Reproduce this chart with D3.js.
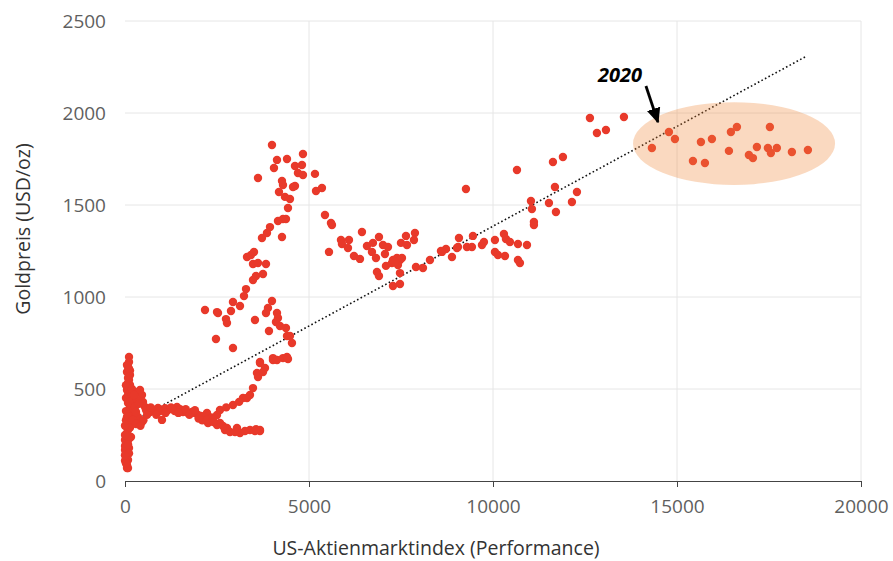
<!DOCTYPE html>
<html>
<head>
<meta charset="utf-8">
<script src="https://cdn.jsdelivr.net/npm/d3@7"></script>
<style>
  body { margin: 0; background: #fff; }
  svg { display: block; font-family: 'Open Sans', 'Noto Sans', sans-serif; }
  .grid line { stroke: #e6e6e6; stroke-width: 1; }
  .tick-label { fill: #5f5f5f; font-size: 19px; }
  .axis-label { fill: #333; font-size: 19.5px; }
</style>
</head>
<body>
<div id="chart"></div>
<script>
// x = US stock index (performance), y = gold price USD/oz
const xTicks = [0, 5000, 10000, 15000, 20000]
const yTicks = [0, 500, 1000, 1500, 2000, 2500]

// early years, index near zero
const stackPts = [
  [109, 674], [82, 620], [136, 576], [82, 533], [54, 495], [163, 468], [82, 424], [190, 386],
  [54, 348], [136, 315], [82, 277], [163, 239], [27, 206], [0, 168], [54, 141], [82, 114],
  [54, 87], [82, 70], [109, 647], [54, 592], [109, 549], [27, 451], [109, 332], [27, 299],
  [54, 261], [109, 179], [27, 125], [136, 522], [82, 468], [0, 223], [54, 70], [0, 190],
  [136, 400], [163, 355], [27, 380], [109, 230], [0, 110], [136, 290],
  [0, 300], [27, 330], [82, 350], [136, 430], [190, 470], [27, 520], [82, 560], [136, 600],
  [54, 630], [109, 610], [0, 250], [190, 330], [163, 410], [218, 440], [245, 390], [190, 500],
  [27, 95], [109, 150], [0, 140], [82, 200],
  [353, 484], [462, 467], [489, 429], [543, 402], [326, 440], [272, 402], [353, 348],
  [462, 321], [217, 332], [408, 495], [245, 467], [299, 375], [300, 310], [420, 300],
  [500, 330], [380, 420],
]

// 80s / 90s flat band and the 2000s split
const bandPts = [
  [679, 375], [897, 397], [1005, 332], [1168, 386], [1413, 402], [1576, 375], [1820, 375],
  [1983, 359], [2174, 342], [2255, 315], [571, 386], [815, 386], [1277, 391], [1712, 370],
  [1902, 370], [2065, 353], [760, 380], [1090, 395], [1500, 390], [2228, 370],
  [600, 360], [700, 400], [950, 380], [1100, 370], [1250, 400], [1350, 380], [1650, 390],
  [1750, 360], [2000, 340], [2100, 330], [2300, 330], [2350, 345], [850, 360], [1450, 370],
  [1900, 385],
  [2500, 359], [2581, 386], [2934, 413], [3206, 451], [3315, 451], [3396, 467], [3478, 505],
  [3586, 587], [3614, 565], [3668, 641], [3668, 647], [3804, 614], [4021, 668], [4021, 658],
  [4130, 658], [4293, 668], [4402, 674], [4429, 663], [3750, 592], [2750, 400], [3100, 430],
  [2228, 332], [2391, 332], [2581, 315], [2717, 277], [2771, 288], [3043, 288], [3125, 261],
  [3396, 277], [3668, 272], [3668, 277], [2853, 266], [3260, 272], [3532, 272], [2989, 266],
  [2500, 304], [2663, 299], [2400, 320], [3560, 282],
]

// 2000s gold rally
const surgePts = [
  [3994, 1826], [4130, 1745], [4402, 1750], [4836, 1777], [4048, 1701], [4619, 1712],
  [4809, 1717], [4700, 1674], [4836, 1663], [5162, 1669], [3614, 1647], [4266, 1631],
  [4293, 1609], [4619, 1603], [4565, 1598], [4184, 1571], [5190, 1576], [5352, 1592],
  [4347, 1544], [4483, 1533], [4429, 1484], [5434, 1446], [5597, 1402], [5624, 1391],
  [4157, 1413], [4293, 1424], [4374, 1424], [3940, 1380], [3858, 1348], [3722, 1321],
  [4266, 1326], [3315, 1217], [3423, 1228], [3505, 1245], [3478, 1179], [3614, 1185],
  [3831, 1179], [3559, 1114], [3478, 1092], [3750, 1125], [3288, 1043], [3233, 1005],
  [3125, 951], [2934, 973], [2880, 924], [2174, 929], [2500, 918], [2527, 913], [2744, 880],
  [2771, 859], [2472, 772], [2934, 723], [3532, 875], [3994, 978], [3885, 940], [3831, 913],
  [4130, 913], [4157, 886], [4102, 864], [4211, 842], [4374, 832], [3912, 815], [4402, 788],
  [4483, 788], [4537, 750],
]

// 2010s
const midPts = [
  [5543, 1245], [5869, 1310], [5896, 1288], [6086, 1310], [6059, 1266], [6222, 1223],
  [6385, 1207], [6439, 1353], [6575, 1277], [6738, 1294], [6901, 1326], [7010, 1283],
  [7146, 1272], [6711, 1245], [6820, 1212], [7064, 1234], [6847, 1136], [6901, 1114],
  [7091, 1169], [7254, 1185], [7282, 1201], [7390, 1212], [7472, 1201], [7417, 1174],
  [7336, 1190], [7526, 1212], [7499, 1294], [7635, 1332], [7662, 1283], [7879, 1348],
  [7852, 1310], [7472, 1130], [7472, 1071], [7282, 1060], [7906, 1163], [8097, 1158],
  [8287, 1201], [8586, 1250], [8722, 1261], [8885, 1217], [9075, 1321], [9265, 1587],
  [9020, 1266], [9292, 1272], [9428, 1272], [9455, 1332], [9700, 1283], [9754, 1299],
  [10053, 1310], [10053, 1245], [10134, 1228], [10297, 1342], [10352, 1315], [10460, 1299],
  [10325, 1223], [10678, 1288], [10923, 1283], [10678, 1201], [10732, 1185], [10651, 1690],
  [11031, 1522], [11058, 1478], [11112, 1408], [11112, 1391], [8613, 1245], [9048, 1272],
  [11520, 1511], [11683, 1598], [11710, 1462], [11629, 1734], [11900, 1761], [12145, 1516],
  [12281, 1571], [12634, 1973], [12824, 1891], [13069, 1908], [13558, 1978],
]

// 2020 onwards
const recentPts = [
  [14318, 1810], [14780, 1897], [14944, 1859], [15433, 1739], [15650, 1842], [15759, 1728],
  [15949, 1859], [16411, 1794], [16465, 1897], [16628, 1924], [16954, 1772], [17063, 1755],
  [17171, 1815], [17470, 1810], [17524, 1924], [17551, 1783], [17714, 1810], [18122, 1788],
  [18557, 1799],
]

const trendLine = [[0, 300], [18530, 2310]]
const highlight = { cx: 16550, cy: 1834, rx: 2745, ry: 225 }
const note = { label: '2020', x: 13450, y: 2170, from: [14156, 2147], to: [14482, 1951] }

const width = 893
const height = 561
const margin = { top: 21, right: 32, bottom: 80, left: 125 }
const innerW = width - margin.left - margin.right
const innerH = height - margin.top - margin.bottom

const svg = d3.select('#chart').append('svg').attr('width', width).attr('height', height)
const g = svg.append('g').attr('transform', `translate(${margin.left},${margin.top})`)

const x = d3.scaleLinear().domain([0, 20000]).range([0, innerW])
const y = d3.scaleLinear().domain([0, 2500]).range([innerH, 0])

// grid
const grid = g.append('g').attr('class', 'grid')
grid.selectAll('line.h').data(yTicks.filter((d) => d > 0)).join('line')
  .attr('class', 'h').attr('x1', 0).attr('x2', innerW).attr('y1', (d) => y(d)).attr('y2', (d) => y(d))
grid.selectAll('line.v').data(xTicks.filter((d) => d > 0)).join('line')
  .attr('class', 'v').attr('y1', 0).attr('y2', innerH).attr('x1', (d) => x(d)).attr('x2', (d) => x(d))

// y labels (no axis line)
g.selectAll('text.ylab').data(yTicks).join('text')
  .attr('class', 'tick-label ylab')
  .attr('x', -19).attr('y', (d) => y(d)).attr('dy', '0.35em')
  .attr('text-anchor', 'end').text((d) => d)

// x axis
const xAxisG = g.append('g').attr('transform', `translate(0,${innerH})`)
  .call(d3.axisBottom(x).tickValues(xTicks).tickSize(6).tickSizeOuter(0).tickFormat((d) => d))
xAxisG.attr('font-size', null).attr('font-family', null)
xAxisG.select('.domain').attr('stroke', '#444')
xAxisG.selectAll('.tick line').attr('stroke', '#444')
xAxisG.selectAll('.tick text').attr('class', 'tick-label').attr('dy', 0).attr('y', 32)

// trend line
g.append('path')
  .datum(trendLine)
  .attr('d', d3.line().x((d) => x(d[0])).y((d) => y(d[1])))
  .attr('fill', 'none').attr('stroke', '#111').attr('stroke-width', 1.6)
  .attr('stroke-dasharray', '1.6,2.4')

// points
const allPts = [...stackPts, ...bandPts, ...surgePts, ...midPts, ...recentPts]
g.append('g').selectAll('circle').data(allPts).join('circle')
  .attr('cx', (d) => x(d[0])).attr('cy', (d) => y(d[1])).attr('r', 4.2)
  .attr('fill', '#e8392a')

// highlight ellipse over recent points
g.append('ellipse')
  .attr('cx', x(highlight.cx)).attr('cy', y(highlight.cy))
  .attr('rx', x(highlight.rx) - x(0)).attr('ry', y(0) - y(highlight.ry))
  .attr('fill', '#ee8a3c').attr('fill-opacity', 0.32)

// annotation
const defs = svg.append('defs')
defs.append('marker').attr('id', 'arrow').attr('viewBox', '0 0 10 10')
  .attr('refX', 9).attr('refY', 5).attr('markerWidth', 5.5).attr('markerHeight', 5.5)
  .attr('orient', 'auto').attr('markerUnits', 'strokeWidth')
  .append('path').attr('d', 'M0,0.5 L10,5 L0,9.5 z').attr('fill', '#000')

g.append('line')
  .attr('x1', x(note.from[0])).attr('y1', y(note.from[1]))
  .attr('x2', x(note.to[0])).attr('y2', y(note.to[1]))
  .attr('stroke', '#000').attr('stroke-width', 2.8).attr('marker-end', 'url(#arrow)')

g.append('text')
  .attr('x', x(note.x)).attr('y', y(note.y))
  .attr('text-anchor', 'middle')
  .attr('font-size', 20).attr('font-weight', 700).attr('font-style', 'italic').attr('fill', '#000')
  .text(note.label)

// axis titles
svg.append('text').attr('class', 'axis-label').attr('text-anchor', 'middle')
  .attr('x', 436).attr('y', 555)
  .text('US-Aktienmarktindex (Performance)')
svg.append('text').attr('class', 'axis-label').attr('text-anchor', 'middle')
  .attr('transform', 'translate(30,229) rotate(-90)')
  .text('Goldpreis (USD/oz)')
</script>
</body>
</html>
